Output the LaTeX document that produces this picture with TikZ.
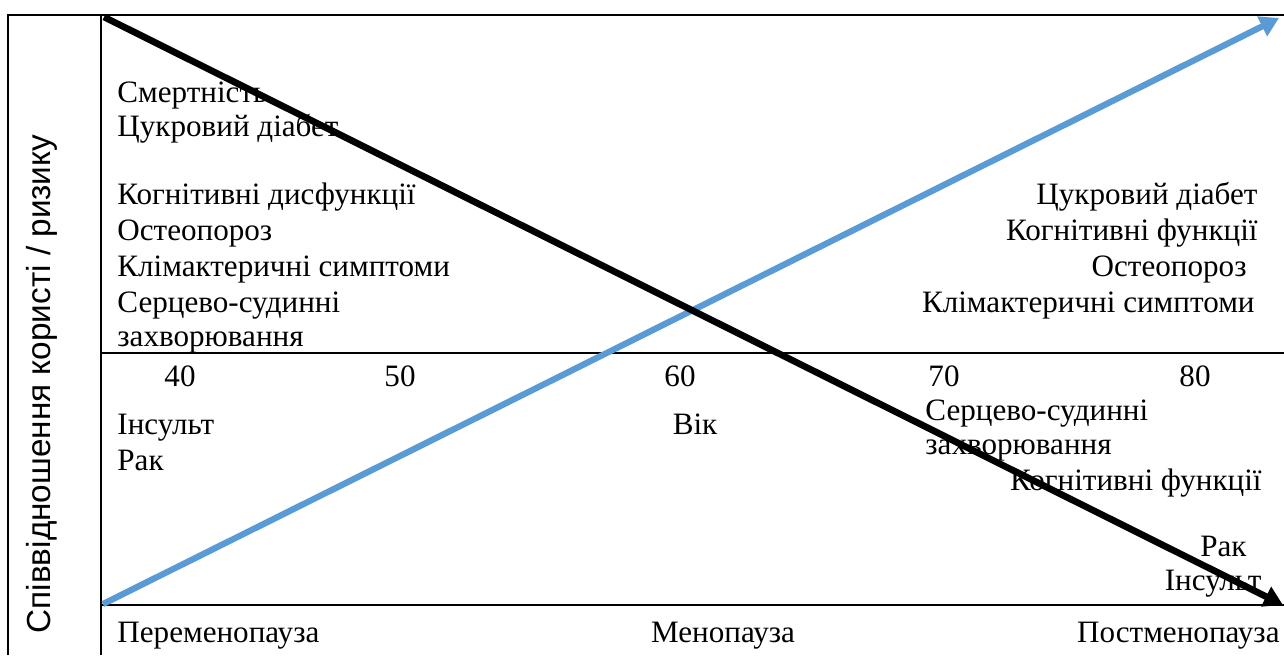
\documentclass[tikz,border=0pt]{standalone}
\usepackage{fontspec}
\setmainfont{Liberation Serif}
\setsansfont{Liberation Sans}
\usetikzlibrary{arrows.meta, positioning}
\definecolor{riskblue}{RGB}{91,155,213}

\begin{document}
\begin{tikzpicture}[x=0.45pt, y=-0.45pt,
  frame/.style={draw=black, line width=1pt},
  lbl/.style={font=\fontsize{14pt}{16pt}\selectfont, inner sep=0pt},
  riskarrow/.style={line width=2.8pt, -{Triangle[length=8.5pt, width=9.5pt]}},
]
\useasboundingbox (0,0) rectangle (1284,655);

% frame and axes
\coordinate (tl) at (8,15);
\coordinate (bl) at (8,655);
\coordinate (ax) at (101,15);
\coordinate (axb) at (101,655);
\coordinate (tr) at (1284,15);
\coordinate (m0) at (101,353);
\coordinate (m1) at (1284,353);
\coordinate (b0) at (101,605);
\coordinate (b1) at (1284,605);
\draw[frame] (tr) -- (tl) -- (bl);
\draw[frame] (ax) -- (axb);
\draw[frame] (m0) -- (m1);
\draw[frame] (b0) -- (b1);

\node[lbl, font=\sffamily\fontsize{15pt}{17pt}\selectfont, rotate=90] (ylab) at (42,384) {Співвідношення користі / ризику};

% left, upper half
\foreach \t/\y [count=\i] in {Смертність/102, Цукровий діабет/136,
    Когнітивні дисфункції/204, Остеопороз/240, Клімактеричні симптоми/276,
    Серцево-судинні/312, захворювання/346}
  \node[lbl, anchor=base west] (lu\i) at (117,\y) {\t};

% right, upper half
\node[lbl, anchor=base east] (ru1) at (1258,204) {Цукровий діабет};
\node[lbl, anchor=base east] (ru2) at (1258,240) {Когнітивні функції};
\node[lbl, anchor=base east] (ru3) at (1247,276) {Остеопороз};
\node[lbl, anchor=base east] (ru4) at (1255,312) {Клімактеричні симптоми};

% age ticks
\foreach \x/\a in {180/40, 400/50, 680/60, 944/70, 1195/80}
  \node[lbl, anchor=base] (age\a) at (\x,386) {\a};
\node[lbl, anchor=base] (vik) at (695,434) {Вік};

% lower half
\node[lbl, anchor=base west] (ll1) at (117,434) {Інсульт};
\node[lbl, anchor=base west] (ll2) at (117,470) {Рак};
\node[lbl, anchor=base west] (rl1) at (925,420) {Серцево-судинні};
\node[lbl, anchor=base west] (rl2) at (925,454) {захворювання};
\node[lbl, anchor=base east] (rl3) at (1262,490) {Когнітивні функції};
\node[lbl, anchor=base east] (rl4) at (1247,556) {Рак};
\node[lbl, anchor=base east] (rl5) at (1262,590) {Інсульт};

% phases
\node[lbl, anchor=base west] (ph1) at (117,642) {Переменопауза};
\node[lbl, anchor=base] (ph2) at (723,642) {Менопауза};
\node[lbl, anchor=base east] (ph3) at (1280,642) {Постменопауза};

% risk / benefit lines
\coordinate (k0) at (104,17);
\coordinate (k1) at (1283,605);
\coordinate (s0) at (103,604);
\coordinate (s1) at (1279,18);
\draw[riskarrow, riskblue] (s0) -- (s1);
\draw[riskarrow, black, line width=3pt] (k0) -- (k1);

\end{tikzpicture}
\end{document}
